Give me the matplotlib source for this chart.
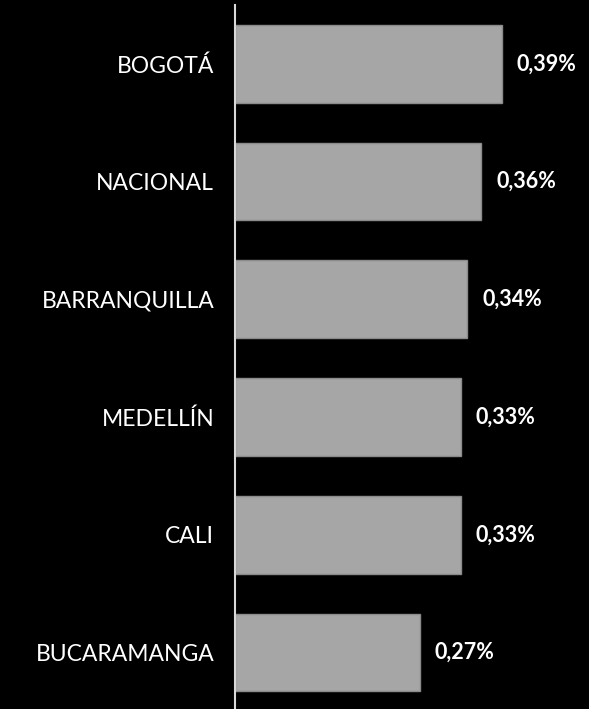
import matplotlib.pyplot as plt

# Ciudades y valores (%)
ciudades = ["BOGOTÁ", "NACIONAL", "BARRANQUILLA", "MEDELLÍN", "CALI", "BUCARAMANGA"]
valores = [0.39, 0.36, 0.34, 0.33, 0.33, 0.27]
etiquetas = ["0,39%", "0,36%", "0,34%", "0,33%", "0,33%", "0,27%"]

plt.rcParams['font.family'] = ['Lato', 'DejaVu Sans']

fig = plt.figure(figsize=(5.89, 7.09), dpi=100, facecolor="black")
ax = fig.add_axes([235 / 589, 0, 1 - 235 / 589, 704 / 709])
ax.set_facecolor("black")

pos = list(range(len(ciudades)))
ax.barh(pos, valores, height=0.66, color="#a6a6a6", edgecolor="#8a8a8a", linewidth=1)

for p, v, t in zip(pos, valores, etiquetas):
    ax.text(v + 0.022, p, t, color="white", fontsize=15.5, fontweight="bold",
            va="center", ha="left")

ax.set_xlim(0, 354 / 683.5)
ax.set_ylim(5.48, -0.50)
ax.set_yticks(pos)
ax.set_yticklabels(ciudades, color="white", fontsize=16.5)
ax.tick_params(axis="y", length=0, pad=15)
ax.set_xticks([])

for s in ["top", "right", "bottom"]:
    ax.spines[s].set_visible(False)
ax.spines["left"].set_color("#d9d9d9")
ax.spines["left"].set_linewidth(1.5)

fig.savefig("out.png", dpi=100, facecolor="black")
